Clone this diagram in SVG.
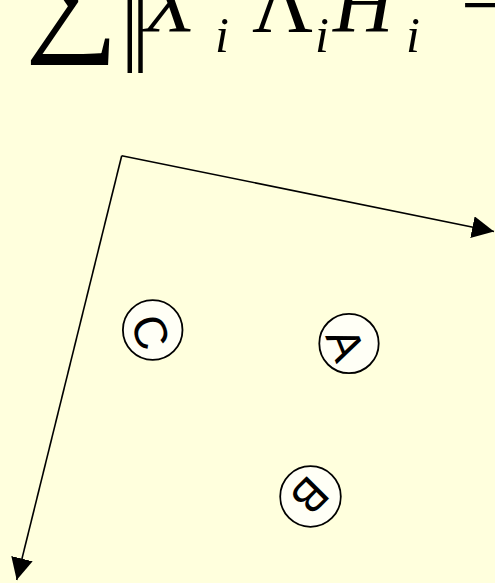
<svg xmlns="http://www.w3.org/2000/svg" width="495" height="583" viewBox="0 0 495 583">
<defs>
<style>
.node circle{fill:#FFFFF6;stroke:#000;stroke-width:1.8}
.node text{font-family:"Liberation Sans",Arial,sans-serif;font-size:46px;fill:#000;text-anchor:middle}
.axis{stroke:#000;stroke-width:1.6;fill:none}
.m{font-family:"Liberation Serif","Times New Roman",serif;fill:#000}
.it{font-style:italic}
</style>
<marker id="arr" markerUnits="userSpaceOnUse" markerWidth="22" markerHeight="22" refX="20" refY="10" orient="auto" viewBox="0 0 20 20">
<path d="M0,0 L20,10 L0,20 z" fill="#000"/>
</marker>
</defs>
<rect width="495" height="583" fill="#FFFFDD"/>
<g id="formula">
<text class="m" x="25" y="37" font-size="131">∑</text>
<text class="m" x="0" y="0" font-size="90" letter-spacing="-7.3" transform="translate(120.8,42) scale(1,1.6)">||</text>
<text class="m it" x="144" y="31.7" font-size="84">X</text>
<text class="m it" x="215" y="51.7" font-size="50">i</text>
<text class="m" x="252" y="31.7" font-size="84">Λ</text>
<text class="m it" x="315" y="51.7" font-size="50">i</text>
<text class="m it" x="333" y="31.7" font-size="84">H</text>
<text class="m it" x="406" y="51.7" font-size="50">i</text>
<text class="m" x="461" y="32.5" font-size="84">−</text>
</g>
<g id="connectors">
<line class="axis" x1="121.7" y1="155.7" x2="494" y2="231.5" marker-end="url(#arr)"/>
<line class="axis" x1="121.7" y1="155.7" x2="16.7" y2="580" marker-end="url(#arr)"/>
</g>
<g id="A" class="node">
<circle cx="349" cy="343.5" r="29.7"/>
<text transform="translate(346,344) rotate(68)" x="0" y="16.5">A</text>
</g>
<g id="B" class="node">
<circle cx="310.5" cy="496.5" r="30.3"/>
<text transform="translate(310,496) rotate(135)" x="0" y="16.5">B</text>
</g>
<g id="C" class="node">
<circle cx="152.7" cy="330" r="29.8"/>
<text transform="translate(151,332) rotate(72)" x="0" y="16.5">C</text>
</g>
</svg>
